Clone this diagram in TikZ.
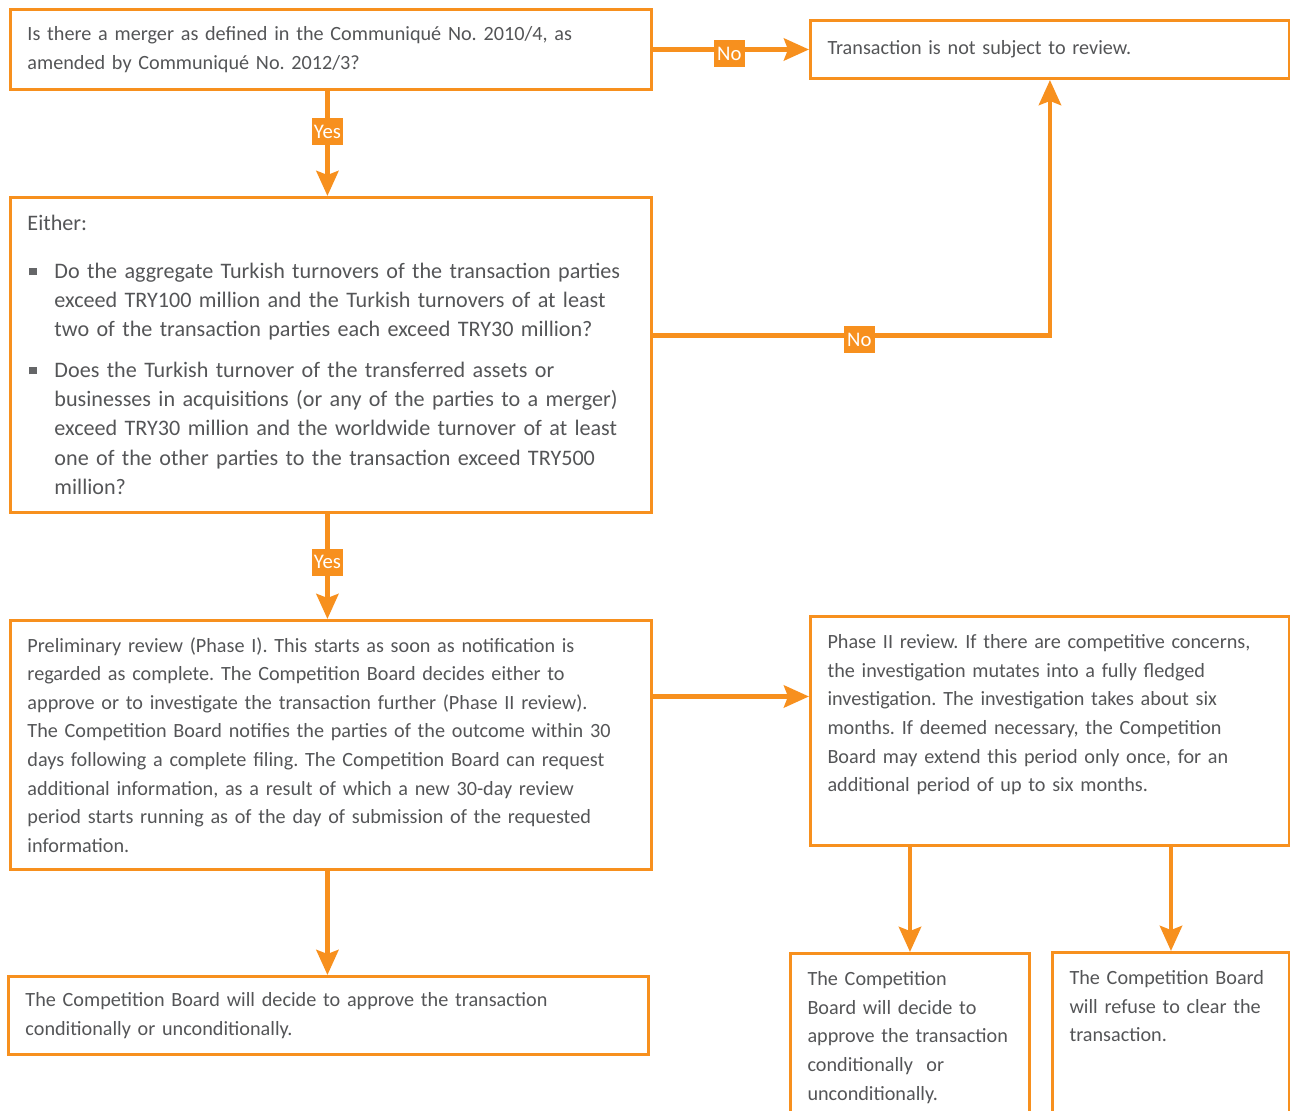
\documentclass[tikz,border=0pt]{standalone}
\usepackage{fontspec}
\setmainfont{Carlito}
\usepackage{xcolor}
\definecolor{kporange}{RGB}{247,144,30}
\definecolor{kpgray}{RGB}{84,85,87}
\usetikzlibrary{arrows.meta,positioning,calc}
\frenchspacing
\newcommand{\sqbul}{\makebox[0.54cm][l]{\hspace{0.04cm}\textcolor{kpgray!90}{\rule[0.12em]{0.15cm}{0.15cm}}}}
\newcommand{\bind}{\hspace*{0.54cm}}
\tikzset{
  qbox/.style={draw=kporange, line width=1.7pt, anchor=north west, align=left, text=kpgray,
    inner xsep=0.34cm, font=\fontsize{11.5}{16.3}\selectfont},
  topbox/.style={qbox, inner ysep=0.36cm},
  tagbox/.style={fill=kporange, text=white, inner sep=0pt, minimum width=0.62cm, minimum height=0.54cm,
    font=\fontsize{11.8}{13}\selectfont},
  flow/.style={draw=kporange, line width=2.8pt, -{Stealth[length=0.5cm,width=0.44cm,inset=0.08cm]}}
}
\begin{document}
\begin{tikzpicture}[x=0.02cm, y=-0.02cm]
  \useasboundingbox (0,0) rectangle (1290,1111);
  % Questions
  \node[qbox, text width=12.14cm, minimum height=1.6cm] (q1) at (9,8)
    {Is there a merger as defined in the Communiqué No. 2010/4, as\\amended by Communiqué No. 2012/3?};
  \node[qbox, text width=8.9cm, minimum height=1.16cm] (nosub) at (809,19)
    {Transaction is not subject to review.};
  \node[qbox, text width=12.14cm, minimum height=6.3cm, font=\fontsize{12.6}{16.7}\selectfont] (q2) at (9,196)
    {Either:\\[0.36cm]
     \sqbul Do the aggregate Turkish turnovers of the transaction parties\\
     \bind exceed TRY100 million and the Turkish turnovers of at least\\
     \bind two of the transaction parties each exceed TRY30 million?\\[0.22cm]
     \sqbul Does the Turkish turnover of the transferred assets or\\
     \bind businesses in acquisitions (or any of the parties to a merger)\\
     \bind exceed TRY30 million and the worldwide turnover of at least\\
     \bind one of the other parties to the transaction exceed TRY500\\
     \bind million?};
  % Review phases
  \node[qbox, text width=12.14cm, minimum height=4.98cm] (prelim) at (9,619)
    {Preliminary review (Phase I). This starts as soon as notification is\\
     regarded as complete. The Competition Board decides either to\\
     approve or to investigate the transaction further (Phase II review).\\
     The Competition Board notifies the parties of the outcome within 30\\
     days following a complete filing. The Competition Board can request\\
     additional information, as a result of which a new 30-day review\\
     period starts running as of the day of submission of the requested\\
     information.};
  \node[topbox, text width=8.9cm, text depth=3.58cm] (phase2) at (809,615)
    {Phase II review. If there are competitive concerns,\\
     the investigation mutates into a fully fledged\\
     investigation. The investigation takes about six\\
     months. If deemed necessary, the Competition\\
     Board may extend this period only once, for an\\
     additional period of up to six months.};
  % Outcomes
  \node[qbox, text width=12.12cm, minimum height=1.56cm] (final1) at (7,975)
    {The Competition Board will decide to approve the transaction\\conditionally or unconditionally.};
  \node[topbox, text width=4.1cm, text depth=4cm] (final2) at (789,952)
    {The Competition\\Board will decide to\\approve the transaction\\conditionally\ \ or\\unconditionally.};
  \node[topbox, text width=4.06cm, text depth=4cm] (final3) at (1051,951)
    {The Competition Board\\will refuse to clear the\\transaction.};
  % Arrows
  \draw[flow] (q1) -- node[tagbox, pos=0.49, yshift=-0.08cm] (no1) {No} (nosub);
  \draw[flow] ([xshift=-0.07cm]q1.south) -- node[tagbox, pos=0.39] (yes1) {Yes} ([xshift=-0.07cm]q1.south |- q2.north);
  \draw[flow] ([yshift=0.39cm]q2.east) -| node[tagbox, pos=0.26, yshift=-0.08cm] (no2) {No} (nosub.south);
  \draw[flow] ([xshift=-0.07cm]q2.south) -- node[tagbox, pos=0.46] (yes2) {Yes} ([xshift=-0.07cm]q2.south |- prelim.north);
  \draw[flow] ([yshift=0.97cm]prelim.east) -- ([yshift=0.97cm]prelim.east -| phase2.west);
  \draw[flow] ([xshift=-0.07cm]prelim.south) -- ([xshift=-0.07cm]prelim.south |- final1.north);
  \draw[flow] (final2.north |- phase2.south) -- (final2.north);
  \draw[flow] (final3.north |- phase2.south) -- (final3.north);
\end{tikzpicture}
\end{document}
